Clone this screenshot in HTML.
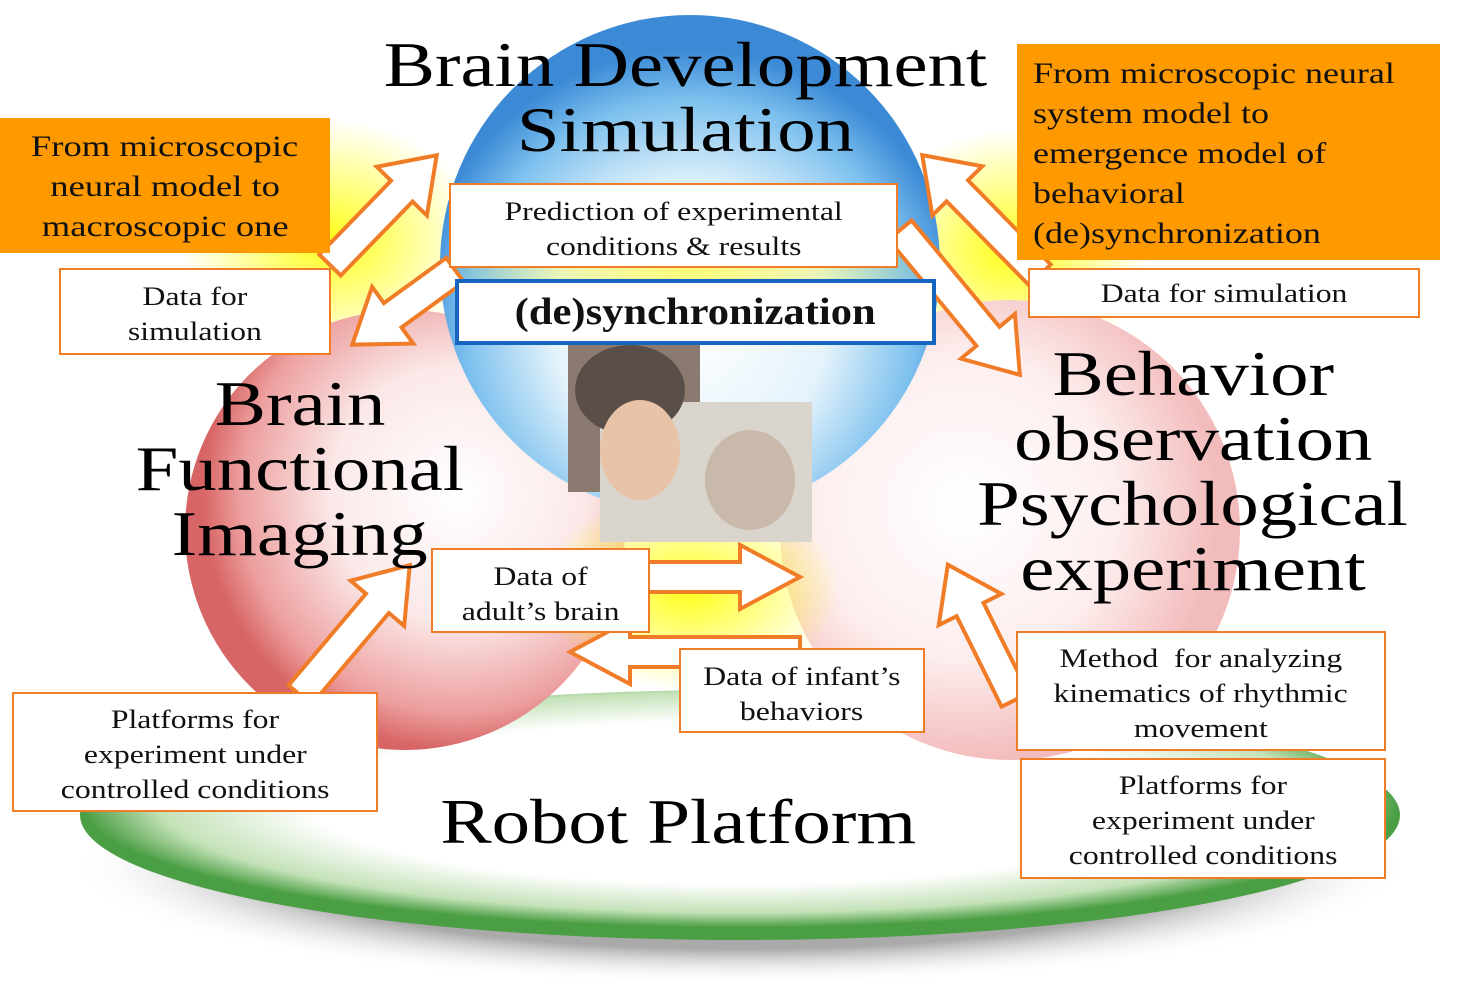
<!DOCTYPE html>
<html><head><meta charset="utf-8"><style>
html,body{margin:0;padding:0;background:#fff;}
body{width:1458px;height:999px;overflow:hidden;position:relative;font-family:"Liberation Serif",serif;}
.box{position:absolute;background:#fff;border:2px solid #f07c28;box-sizing:border-box;text-align:center;color:#111;font-size:26px;line-height:35px;}
.or{position:absolute;background:#ff9900;box-sizing:border-box;color:#111;font-size:30px;line-height:40px;}
.s{display:inline-block;transform:scaleX(1.22);transform-origin:50% 50%;white-space:nowrap;}
.sl{display:inline-block;transform:scaleX(1.2);transform-origin:0 50%;white-space:nowrap;}
.t{position:absolute;font-size:64px;line-height:64px;text-align:center;color:#000;white-space:nowrap;width:800px;margin-left:-400px;}
.t span{display:inline-block;transform:scaleX(1.2);}
</style></head><body>
<svg width="1458" height="999" style="position:absolute;left:0;top:0">
<defs>
<radialGradient id="plat" cx="50%" cy="45%" r="50%">
<stop offset="0" stop-color="#fff"/><stop offset="0.65" stop-color="#fff"/><stop offset="0.88" stop-color="#c4e2b8"/><stop offset="1" stop-color="#4a9e44"/></radialGradient>
<radialGradient id="shad" cx="50%" cy="50%" r="50%"><stop offset="0.7" stop-color="#aaa"/><stop offset="1" stop-color="#fff" stop-opacity="0"/></radialGradient>
<radialGradient id="blue" cx="50%" cy="62%" r="55%"><stop offset="0" stop-color="#fff"/><stop offset="0.5" stop-color="#e4f3fb"/><stop offset="0.82" stop-color="#7cc0ee"/><stop offset="1" stop-color="#3c8ad6"/></radialGradient>
<radialGradient id="red" cx="62%" cy="42%" r="58%"><stop offset="0" stop-color="#fff"/><stop offset="0.5" stop-color="#fbe8e8"/><stop offset="0.85" stop-color="#ed9f9f"/><stop offset="1" stop-color="#d86565"/></radialGradient>
<radialGradient id="pink" cx="40%" cy="45%" r="55%"><stop offset="0" stop-color="#fff"/><stop offset="0.6" stop-color="#fdeeee"/><stop offset="1" stop-color="#f3bcbc"/></radialGradient>
<radialGradient id="yel" cx="50%" cy="50%" r="50%"><stop offset="0" stop-color="#ffff00" stop-opacity="0.9"/><stop offset="1" stop-color="#ffff00" stop-opacity="0"/></radialGradient>
</defs>
<ellipse cx="740" cy="865" rx="670" ry="120" fill="url(#shad)"/>
<ellipse cx="740" cy="815" rx="660" ry="125" fill="url(#plat)"/>
<ellipse cx="330" cy="240" rx="150" ry="120" fill="url(#yel)"/>
<ellipse cx="1010" cy="250" rx="140" ry="120" fill="url(#yel)"/>
<circle cx="405" cy="530" r="220" fill="url(#red)"/>
<circle cx="1010" cy="530" r="230" fill="url(#pink)"/>
<circle cx="690" cy="265" r="250" fill="url(#blue)"/>
<ellipse cx="690" cy="590" rx="150" ry="100" fill="url(#yel)"/>
<ellipse cx="690" cy="270" rx="260" ry="60" fill="url(#yel)" opacity="0.6"/>
<g fill="#fff" stroke="#f07c28" stroke-width="4" stroke-linejoin="miter">
<g transform="translate(330,265) rotate(-45.8)"><polygon points="0,-15 103,-15 103,-35 153,0 103,35 103,15 0,15"/></g>
<g transform="translate(455,270) rotate(144)"><polygon points="0,-15 77,-15 77,-35 127,0 77,35 77,15 0,15"/></g>
<g transform="translate(1040,275) rotate(-134.5)"><polygon points="0,-15 118,-15 118,-35 168,0 118,35 118,15 0,15"/></g>
<g transform="translate(900,230) rotate(50.4)"><polygon points="0,-15 138,-15 138,-35 188,0 138,35 138,15 0,15"/></g>
<g transform="translate(300,695) rotate(-49.8)"><polygon points="0,-15 120,-15 120,-35 170,0 120,35 120,15 0,15"/></g>
<g transform="translate(640,577) rotate(0)"><polygon points="0,-15 100,-15 100,-32 160,0 100,32 100,15 0,15"/></g>
<g transform="translate(800,652) rotate(180)"><polygon points="0,-15 170,-15 170,-32 230,0 170,32 170,15 0,15"/></g>
<g transform="translate(1015,700) rotate(-116.4)"><polygon points="0,-15 101,-15 101,-35 151,0 101,35 101,15 0,15"/></g>
</g>
<rect x="568" y="335" width="132" height="157" fill="#8a7a70"/>
<rect x="600" y="402" width="212" height="140" fill="#d9d4cc"/>
<ellipse cx="630" cy="390" rx="55" ry="45" fill="#5a4e48"/>
<ellipse cx="640" cy="450" rx="40" ry="50" fill="#e8c3a8"/>
<ellipse cx="750" cy="480" rx="45" ry="50" fill="#c9b9aa"/>
</svg>
<div class="t" style="left:685px;top:33px"><span>Brain Development</span></div>
<div class="t" style="left:685px;top:98px"><span>Simulation</span></div>
<div class="t" style="left:300px;top:372px"><span>Brain</span></div>
<div class="t" style="left:300px;top:437px"><span>Functional</span></div>
<div class="t" style="left:300px;top:502px"><span>Imaging</span></div>
<div class="t" style="left:1193px;top:342px"><span>Behavior</span></div>
<div class="t" style="left:1193px;top:407px"><span>observation</span></div>
<div class="t" style="left:1193px;top:472px"><span>Psychological</span></div>
<div class="t" style="left:1193px;top:537px"><span>experiment</span></div>
<div class="t" style="left:678px;top:790px"><span>Robot Platform</span></div>
<div class="or" style="left:0;top:118px;width:330px;height:135px;text-align:center;padding-top:9px"><span class="s">From microscopic</span><br><span class="s">neural model to</span><br><span class="s">macroscopic one</span></div>
<div class="or" style="left:1017px;top:44px;width:423px;height:216px;padding:10px 0 0 16px"><span class="sl">From microscopic neural</span><br><span class="sl">system model to</span><br><span class="sl">emergence model of</span><br><span class="sl">behavioral</span><br><span class="sl">(de)synchronization</span></div>
<div class="box" style="left:59px;top:268px;width:272px;height:87px;padding-top:9px"><span class="s">Data for</span><br><span class="s">simulation</span></div>
<div class="box" style="left:449px;top:183px;width:449px;height:85px;padding-top:9px"><span class="s">Prediction of experimental</span><br><span class="s">conditions &amp; results</span></div>
<div class="box" style="left:455px;top:279px;width:481px;height:66px;border:4px solid #1565c0;font-size:38px;line-height:58px;font-weight:bold"><span class="s" style="transform:scaleX(1.12)">(de)synchronization</span></div>
<div class="box" style="left:1028px;top:268px;width:392px;height:50px;padding-top:6px"><span class="s">Data for simulation</span></div>
<div class="box" style="left:431px;top:548px;width:219px;height:85px;padding-top:9px"><span class="s">Data of</span><br><span class="s">adult’s brain</span></div>
<div class="box" style="left:679px;top:648px;width:246px;height:85px;padding-top:9px"><span class="s">Data of infant’s</span><br><span class="s">behaviors</span></div>
<div class="box" style="left:1016px;top:631px;width:370px;height:120px;padding-top:8px"><span class="s">Method &nbsp;for analyzing</span><br><span class="s">kinematics of rhythmic</span><br><span class="s">movement</span></div>
<div class="box" style="left:1020px;top:758px;width:366px;height:121px;padding-top:8px"><span class="s">Platforms for</span><br><span class="s">experiment under</span><br><span class="s">controlled conditions</span></div>
<div class="box" style="left:12px;top:692px;width:366px;height:120px;padding-top:8px"><span class="s">Platforms for</span><br><span class="s">experiment under</span><br><span class="s">controlled conditions</span></div>
</body></html>
